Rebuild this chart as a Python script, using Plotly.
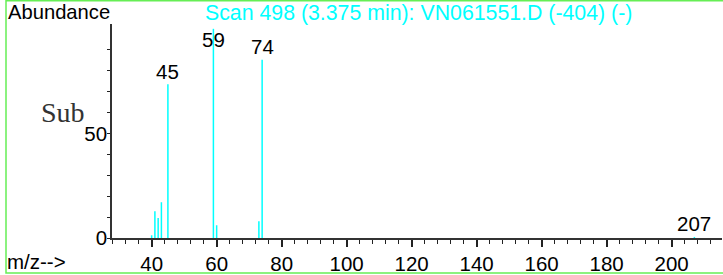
import plotly.graph_objects as go

# ---- data ----
mz = [40, 41, 42, 43, 45, 59, 60, 73, 74, 207]
abundance = [1.3, 12.8, 9.6, 17.1, 73.5, 100.0, 6.1, 8.0, 85.2, 0.5]
labelled_mz = [45, 59, 74, 207]
title_text = "Scan 498 (3.375 min): VN061551.D (-404) (-)"
y_tick_vals = [0, 10, 20, 30, 40, 50, 60, 70, 80, 90]
y_tick_text = ["0", "", "", "", "", "50", "", "", "", ""]

# ---- layout constants (pixels) ----
W, H = 723, 275
ML, MR, MT, MB = 112, 1, 24, 37
PW = W - ML - MR
PH = H - MT - MB


def px(xp):
    return (xp - ML) / PW


def py(yp):
    return (H - MB - yp) / PH


FONT = "Liberation Sans, Arial, sans-serif"
FS = 20.5
CYAN = "#00ffff"

# stick spectrum: vertical lines from 0 to value
xs, ys = [], []
for m, a in zip(mz, abundance):
    xs += [m, m, None]
    ys += [0, a, None]

fig = go.Figure()
fig.add_trace(go.Scatter(x=xs, y=ys, mode="lines",
                         line=dict(color=CYAN, width=1.5),
                         hoverinfo="skip", showlegend=False))

annotations = []
for m, a in zip(mz, abundance):
    if m in labelled_mz:
        annotations.append(dict(x=m, y=min(a + 6.2, 94.7), xref="x", yref="y",
                                text=str(m), showarrow=False,
                                xanchor="center", yanchor="middle",
                                font=dict(family=FONT, size=FS, color="black")))

annotations += [
    dict(x=px(418.5), y=py(13.5), xref="paper", yref="paper", text=title_text,
         showarrow=False, xanchor="center", yanchor="middle",
         font=dict(family=FONT, size=21.3, color=CYAN)),
    dict(x=px(6), y=py(12.5), xref="paper", yref="paper", text="Abundance",
         showarrow=False, xanchor="left", yanchor="middle",
         font=dict(family=FONT, size=20.2, color="black")),
    dict(x=px(5), y=py(261), xref="paper", yref="paper", text="m/z-->",
         showarrow=False, xanchor="left", yanchor="middle",
         font=dict(family=FONT, size=FS, color="black")),
    dict(x=px(39), y=py(112), xref="paper", yref="paper", text="Sub",
         showarrow=False, xanchor="left", yanchor="middle",
         font=dict(family="Liberation Serif, Times New Roman, serif", size=28, color="#333")),
]

shapes = [
    dict(type="rect", xref="paper", yref="paper",
         x0=px(6), x1=px(724), y0=py(273), y1=py(0.8),
         line=dict(color="#66ee55", width=1.5), fillcolor="rgba(0,0,0,0)", layer="above"),
]

fig.update_layout(
    width=W, height=H,
    margin=dict(l=ML, r=MR, t=MT, b=MB, pad=0),
    paper_bgcolor="white", plot_bgcolor="white",
    showlegend=False,
    annotations=annotations,
    shapes=shapes,
    font=dict(family=FONT, size=FS, color="black"),
    xaxis=dict(range=[27.8, 215.5], showgrid=False, zeroline=False,
               showline=True, linecolor="#333", linewidth=1.5,
               ticks="outside", ticklen=7, tickwidth=1.5, tickcolor="#222",
               tick0=0, dtick=20,
               minor=dict(ticks="outside", ticklen=4, tickwidth=1.4,
                          tickcolor="#222", tick0=0, dtick=4, showgrid=False),
               tickfont=dict(family=FONT, size=FS, color="black")),
    yaxis=dict(range=[0, 102.3], showgrid=False, zeroline=False,
               showline=True, linecolor="#333", linewidth=1.5,
               ticks="outside", ticklen=3, tickwidth=1.2, tickcolor="#222",
               tickmode="array", tickvals=y_tick_vals, ticktext=y_tick_text,
               ticklabelstandoff=-4,
               tickfont=dict(family=FONT, size=FS, color="black")),
)

fig.write_html(
    "out.html",
    config={"displayModeBar": False},
    post_script="document.body.style.margin='0';document.body.style.padding='0';",
)
